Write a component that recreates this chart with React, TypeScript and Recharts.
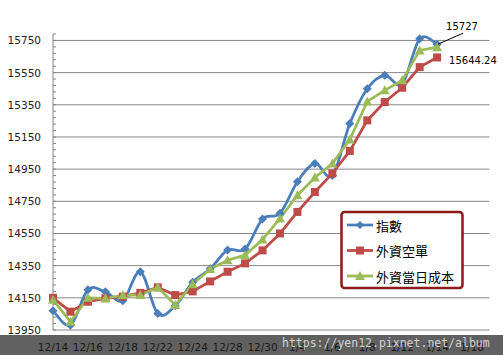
import React from 'react';
import { LineChart, Line, XAxis, YAxis, CartesianGrid } from 'recharts';

const dates = [
  '12/14', '12/15', '12/16', '12/17', '12/18', '12/21', '12/22', '12/23', '12/24', '12/25',
  '12/28', '12/29', '12/30', '12/31', '1/4', '1/5', '1/6', '1/7', '1/8', '1/11',
  '1/12', '1/13', '1/14', '1/15', '1/18', '1/19',
];

// 指數
const indexValues = [
  14070, 13980, 14200, 14187, 14132, 14312, 14052, 14100, 14247, 14330,
  14447, 14453, 14640, 14676, 14872, 14985, 14910, 15233, 15450, 15533,
  15480, 15760, 15727,
];

// 外資空單
const shortValues = [
  14150, 14064, 14126, 14147, 14157, 14181, 14215, 14167, 14190, 14252,
  14312, 14364, 14445, 14550, 14684, 14808, 14923, 15063, 15253, 15367,
  15456, 15584, 15644.24,
];

// 外資當日成本
const costValues = [
  14138, 14001, 14150, 14147, 14167, 14167, 14215, 14105, 14235, 14329,
  14384, 14415, 14513, 14643, 14788, 14898, 14985, 15134, 15371, 15440,
  15502, 15688, 15708,
];

const yMin = 13950;
const yMax = 15790;
const minorTicks = Array.from({ length: 47 }, (_, i) => yMin + i * 40);
const majorTicks = minorTicks.filter((v) => (v - yMin) % 200 === 0);

const data = dates.map((d, i) => ({
  date: d,
  index: indexValues[i] ?? null,
  short: shortValues[i] ?? null,
  cost: costValues[i] ?? null,
}));

const BLUE = '#4a7ebb';
const RED = '#be4b48';
const GREEN = '#9bbb59';
const LAST = indexValues.length - 1;

// Excel-like smoothing (Catmull-Rom through the points)
const smooth = (context: any) => {
  let pts: number[][] = [];
  return {
    areaStart() {},
    areaEnd() {},
    lineStart() {
      pts = [];
    },
    point(x: number, y: number) {
      pts.push([+x, +y]);
    },
    lineEnd() {
      const n = pts.length;
      if (!n) return;
      context.moveTo(pts[0][0], pts[0][1]);
      for (let i = 0; i < n - 1; i++) {
        const p0 = pts[i - 1] || pts[i];
        const p1 = pts[i];
        const p2 = pts[i + 1];
        const p3 = pts[i + 2] || p2;
        context.bezierCurveTo(
          p1[0] + (p2[0] - p0[0]) / 6,
          p1[1] + (p2[1] - p0[1]) / 6,
          p2[0] - (p3[0] - p1[0]) / 6,
          p2[1] - (p3[1] - p1[1]) / 6,
          p2[0],
          p2[1]
        );
      }
    },
  };
};

const Diamond = (p: any) => {
  if (p.cy == null || p.value == null) return <g key={p.key ?? p.index} />;
  const { cx, cy } = p;
  return (
    <polygon
      key={p.key ?? p.index}
      points={`${cx},${cy - 4.5} ${cx + 4.5},${cy} ${cx},${cy + 4.5} ${cx - 4.5},${cy}`}
      fill={BLUE}
    />
  );
};

const Square = (p: any) => {
  if (p.cy == null || p.value == null) return <g key={p.key ?? p.index} />;
  return <rect key={p.key ?? p.index} x={p.cx - 4} y={p.cy - 4} width={8} height={8} fill={RED} />;
};

const Triangle = (p: any) => {
  if (p.cy == null || p.value == null) return <g key={p.key ?? p.index} />;
  const { cx, cy } = p;
  return (
    <polygon
      key={p.key ?? p.index}
      points={`${cx},${cy - 5} ${cx + 5},${cy + 4} ${cx - 5},${cy + 4}`}
      fill={GREEN}
    />
  );
};

const YTick = ({ x, y, payload }: any) => {
  const major = (payload.value - yMin) % 200 === 0;
  return (
    <g>
      <line x1={x + 12} x2={x + 15} y1={y} y2={y} stroke="#868686" />
      {major && (
        <text x={x} y={y} textAnchor="end" dominantBaseline="central" fontSize={10.5} fill="#222" fontFamily="DejaVu Sans">
          {payload.value}
        </text>
      )}
    </g>
  );
};

const indexLabel = ({ x, y, index, value }: any) => {
  if (index !== LAST) return null;
  return (
    <g>
      <line x1={x + 26} y1={y - 11} x2={x + 1} y2={y} stroke="#000" strokeWidth={1} />
      <text x={x + 9} y={y - 14} fontSize={10} fontFamily="DejaVu Sans" fill="#000">
        {value}
      </text>
    </g>
  );
};

const shortLabel = ({ x, y, index, value }: any) => {
  if (index !== LAST) return null;
  return (
    <text x={x + 12} y={y + 7} fontSize={10} fontFamily="DejaVu Sans" fill="#000">
      {value}
    </text>
  );
};

const legendRows = [
  { name: '指數', color: BLUE, shape: 'diamond' },
  { name: '外資空單', color: RED, shape: 'square' },
  { name: '外資當日成本', color: GREEN, shape: 'triangle' },
];

const LegendMark = ({ shape, color, cx, cy }: any) => {
  if (shape === 'diamond')
    return <polygon points={`${cx},${cy - 4} ${cx + 4},${cy} ${cx},${cy + 4} ${cx - 4},${cy}`} fill={color} />;
  if (shape === 'square') return <rect x={cx - 4} y={cy - 4} width={8} height={8} fill={color} />;
  return <polygon points={`${cx},${cy - 5} ${cx + 5},${cy + 4} ${cx - 5},${cy + 4}`} fill={color} />;
};

const App = () => {
  return (
    <div style={{ position: 'absolute', left: 0, top: 0, width: 503, height: 355, background: '#fff', overflow: 'hidden' }}>
      <LineChart width={503} height={355} data={data} margin={{ top: 34, right: 13.5, bottom: 0, left: 0 }}>
        <CartesianGrid vertical={false} horizontalValues={majorTicks} stroke="#868686" strokeWidth={1} />
        <XAxis
          dataKey="date"
          interval={1}
          height={25}
          axisLine={false}
          tickLine={false}
          tickSize={0}
          tickMargin={14}
          tick={{ fontSize: 10.5, fill: '#000', fontFamily: 'DejaVu Sans' }}
        />
        <YAxis
          type="number"
          domain={[yMin, yMax]}
          ticks={minorTicks}
          interval={0}
          width={53}
          axisLine={{ stroke: '#868686' }}
          tickLine={false}
          tickSize={0}
          tickMargin={12}
          tick={<YTick />}
          allowDataOverflow
        />
        <Line
          dataKey="index"
          type={smooth as any}
          stroke={BLUE}
          strokeWidth={2.75}
          dot={Diamond}
          activeDot={false}
          label={indexLabel}
          isAnimationActive={false}
        />
        <Line
          dataKey="short"
          type="linear"
          stroke={RED}
          strokeWidth={2.75}
          dot={Square}
          activeDot={false}
          label={shortLabel}
          isAnimationActive={false}
        />
        <Line
          dataKey="cost"
          type="linear"
          stroke={GREEN}
          strokeWidth={2.75}
          dot={Triangle}
          activeDot={false}
          isAnimationActive={false}
        />
      </LineChart>
      <svg width={503} height={355} style={{ position: 'absolute', left: 0, top: 0, pointerEvents: 'none' }}>
        <rect x={341.5} y={212} width={121} height={76} rx={3} fill="#fff" stroke="#8b1a1a" strokeWidth={2.5} />
        {legendRows.map((r, i) => {
          const cy = 225 + i * 25.5;
          return (
            <g key={r.name}>
              <line x1={347} x2={373} y1={cy} y2={cy} stroke={r.color} strokeWidth={2.75} />
              <LegendMark shape={r.shape} color={r.color} cx={360} cy={cy} />
              <text x={376} y={cy} dominantBaseline="central" fontSize={13} fontFamily="Noto Sans CJK TC" fill="#000">
                {r.name}
              </text>
            </g>
          );
        })}
        <rect x={0} y={335} width={503} height={20} fill="rgba(35,35,35,0.72)" />
        <text x={282} y={347} fontSize={11.5} fontFamily="DejaVu Sans Mono" fill="#e6e6e6" fillOpacity={0.85}>
          https://yen12.pixnet.net/album
        </text>
      </svg>
    </div>
  );
};

export default App;
